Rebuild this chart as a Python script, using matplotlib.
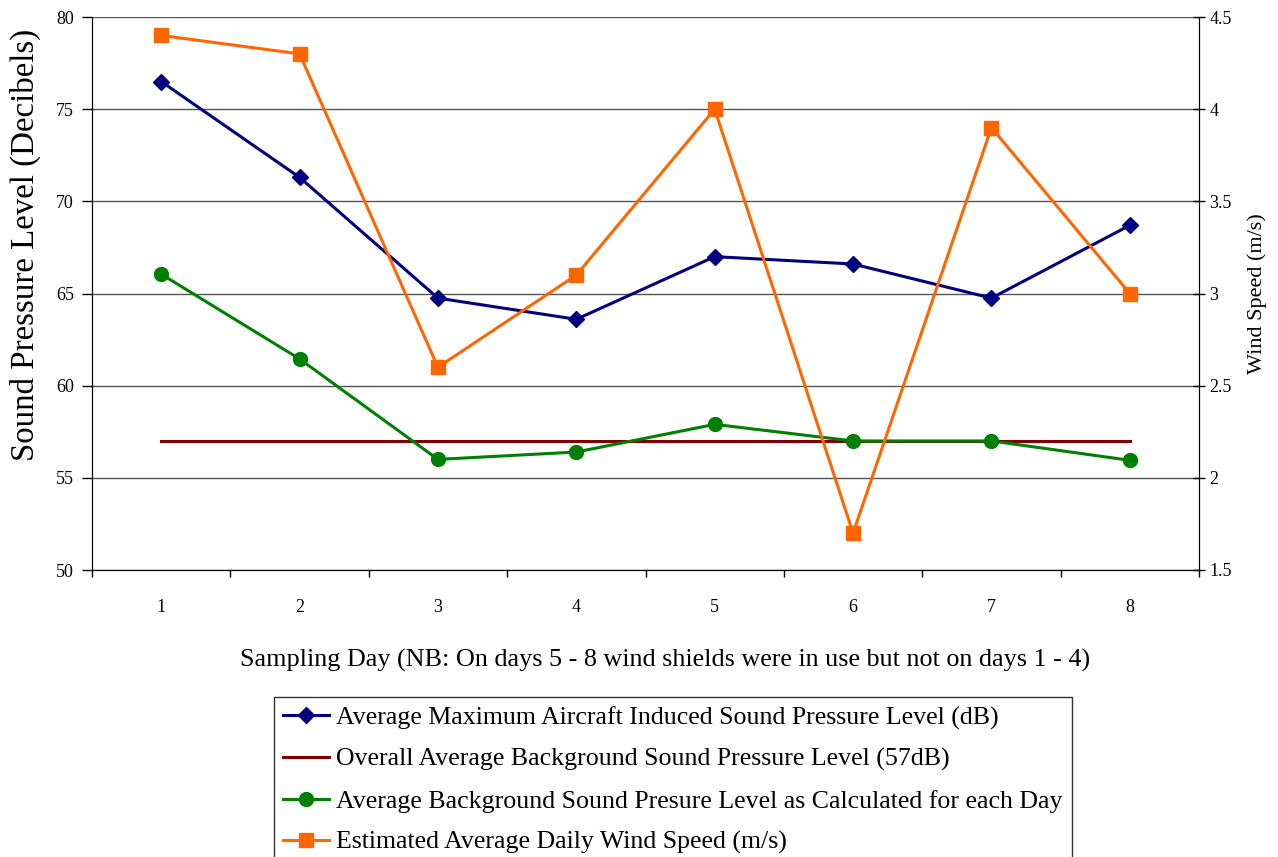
import matplotlib
matplotlib.use("Agg")
import matplotlib.pyplot as plt
from matplotlib.ticker import MultipleLocator, FixedLocator

days = [1, 2, 3, 4, 5, 6, 7, 8]
aircraft_max = [76.5, 71.3, 64.75, 63.6, 67.0, 66.6, 64.75, 68.7]
overall_bg = [57, 57, 57, 57, 57, 57, 57, 57]
daily_bg = [66.05, 61.45, 56.0, 56.4, 57.9, 57.0, 57.0, 55.95]
wind_speed = [4.4, 4.3, 2.6, 3.1, 4.0, 1.7, 3.9, 3.0]
wind_ticks = [1.5, 2, 2.5, 3, 3.5, 4, 4.5]
wind_tick_labels = ['1.5', '2', '2.5', '3', '3.5', '4', '4.5']

labels = [
    "Average Maximum Aircraft Induced Sound Pressure Level (dB)",
    "Overall Average Background Sound Pressure Level (57dB)",
    "Average Background Sound Presure Level as Calculated for each Day",
    "Estimated Average Daily Wind Speed (m/s)",
]

plt.rcParams['font.family'] = ['Liberation Serif', 'DejaVu Serif']

fig = plt.figure(figsize=(12.78, 8.57), dpi=100)
ax = fig.add_axes([92/1278, 1-570/857, (1199-92)/1278, (570-17)/857])
ax2 = ax.twinx()

lw = 2.2
l1, = ax.plot(days, aircraft_max, color='#000080', marker='D', markersize=8, lw=lw, label=labels[0], zorder=3)
l2, = ax.plot(days, overall_bg, color='#800000', lw=lw, label=labels[1], zorder=2)
l3, = ax.plot(days, daily_bg, color='#008000', marker='o', markersize=10, lw=lw, label=labels[2], zorder=3)
l4, = ax2.plot(days, wind_speed, color='#FF6600', marker='s', markersize=9.5, lw=lw, label=labels[3], zorder=3)

ax.set_xlim(0.5, 8.5)
ax.set_ylim(50, 80)
ax2.set_ylim(1.5, 4.5)
ax.yaxis.set_major_locator(MultipleLocator(5))
ax2.set_yticks(wind_ticks)
ax2.set_yticklabels(wind_tick_labels)
ax.set_xticks(days)
ax.set_xticklabels([str(d) for d in days])
ax.xaxis.set_minor_locator(FixedLocator([i + 0.5 for i in range(0, 9)]))
ax.tick_params(axis='x', which='major', length=0, pad=21, labelsize=13)
ax.tick_params(axis='x', which='minor', length=5, width=1, direction='out')
ax.tick_params(axis='y', length=7, width=1, direction='out', labelsize=13, pad=6)
ax2.tick_params(axis='y', length=9, width=1, direction='inout', labelsize=13, pad=3)

ax.grid(axis='y', color='#555555', lw=1)
ax.set_axisbelow(True)
for a in (ax, ax2):
    a.spines['top'].set_visible(False)
    for s in ('left', 'right', 'bottom'):
        a.spines[s].set_color('black')

ax.set_ylabel("Sound Pressure Level (Decibels)", fontsize=23.7)
ax.yaxis.set_label_coords(-0.046, 0.588)
ax2.set_ylabel("Wind Speed (m/s)", fontsize=16, labelpad=11)
ax.set_xlabel("Sampling Day (NB: On days 5 - 8 wind shields were in use but not on days 1 - 4)",
              fontsize=18.8)
ax.xaxis.set_label_coords(0.5176, -0.143)

leg = fig.legend(handles=[l1, l2, l3, l4], loc='upper left',
                 bbox_to_anchor=(274/1278, 1-697/857), fontsize=18.6,
                 frameon=True, fancybox=False, edgecolor='black',
                 handlelength=1.75, labelspacing=0.7, borderpad=0.36,
                 handletextpad=0.3, borderaxespad=0)
leg.get_frame().set_linewidth(1)

fig.savefig("out.png", dpi=100)
